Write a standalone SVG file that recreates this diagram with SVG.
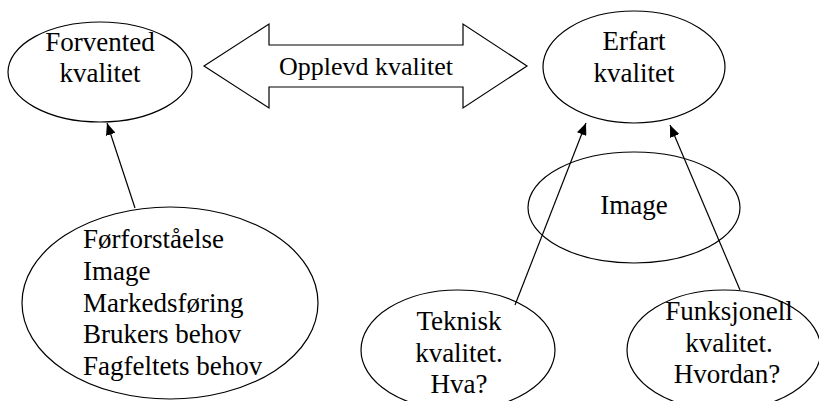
<svg xmlns="http://www.w3.org/2000/svg" width="819" height="401" viewBox="0 0 819 401">
<style>
.s{fill:#fff;stroke:#000;stroke-width:1.2}
.m{text-anchor:middle}
.c{stroke:#000;stroke-width:1.2;fill:none;marker-end:url(#ah)}
</style>
<defs>
<marker id="ah" viewBox="0 0 12 10" refX="12" refY="5" markerWidth="12" markerHeight="10" markerUnits="userSpaceOnUse" orient="auto">
<path d="M0,0 L12,5 L0,10 z" fill="#000"/>
</marker>
</defs>
<rect width="819" height="401" fill="#fff"/>
<g font-family="Liberation Serif, DejaVu Serif, serif" font-size="27" fill="#000">
<g id="arrow-opplevd">
<polygon class="s" points="204,66 269,24 269,45 463,45 463,24 527,66 463,108 463,87 269,87 269,108"/>
<text class="m" x="366" y="75" font-size="26">Opplevd kvalitet</text>
</g>
<g id="forventet">
<ellipse class="s" cx="100" cy="72" rx="92" ry="50"/>
<text class="m" x="100" y="51">Forvented</text>
<text class="m" x="100" y="82">kvalitet</text>
</g>
<g id="erfart">
<ellipse class="s" cx="634" cy="67" rx="91" ry="56"/>
<text class="m" x="634" y="50">Erfart</text>
<text class="m" x="634" y="82">kvalitet</text>
</g>
<g id="image">
<ellipse class="s" cx="634" cy="207.5" rx="106" ry="55.5"/>
<text class="m" x="634" y="214">Image</text>
</g>
<g id="faktorer">
<ellipse class="s" cx="170" cy="303" rx="148" ry="96"/>
<text x="83" y="248">Førforståelse</text>
<text x="83" y="280">Image</text>
<text x="83" y="312">Markedsføring</text>
<text x="83" y="343">Brukers behov</text>
<text x="83" y="375">Fagfeltets behov</text>
</g>
<g id="teknisk">
<ellipse class="s" cx="458" cy="350" rx="97" ry="60"/>
<text class="m" x="459" y="330">Teknisk</text>
<text class="m" x="459" y="362">kvalitet.</text>
<text class="m" x="459" y="393">Hva?</text>
</g>
<g id="funksjonell">
<ellipse class="s" cx="724" cy="350" rx="97" ry="60"/>
<text class="m" x="729" y="320">Funksjonell</text>
<text class="m" x="729" y="352">kvalitet.</text>
<text class="m" x="727" y="383">Hvordan?</text>
</g>
</g>
<g id="connectors">
<line class="c" x1="135" y1="208" x2="107" y2="123"/>
<line class="c" x1="515" y1="305" x2="586" y2="123"/>
<line class="c" x1="740" y1="290" x2="670" y2="125"/>
</g>
</svg>
